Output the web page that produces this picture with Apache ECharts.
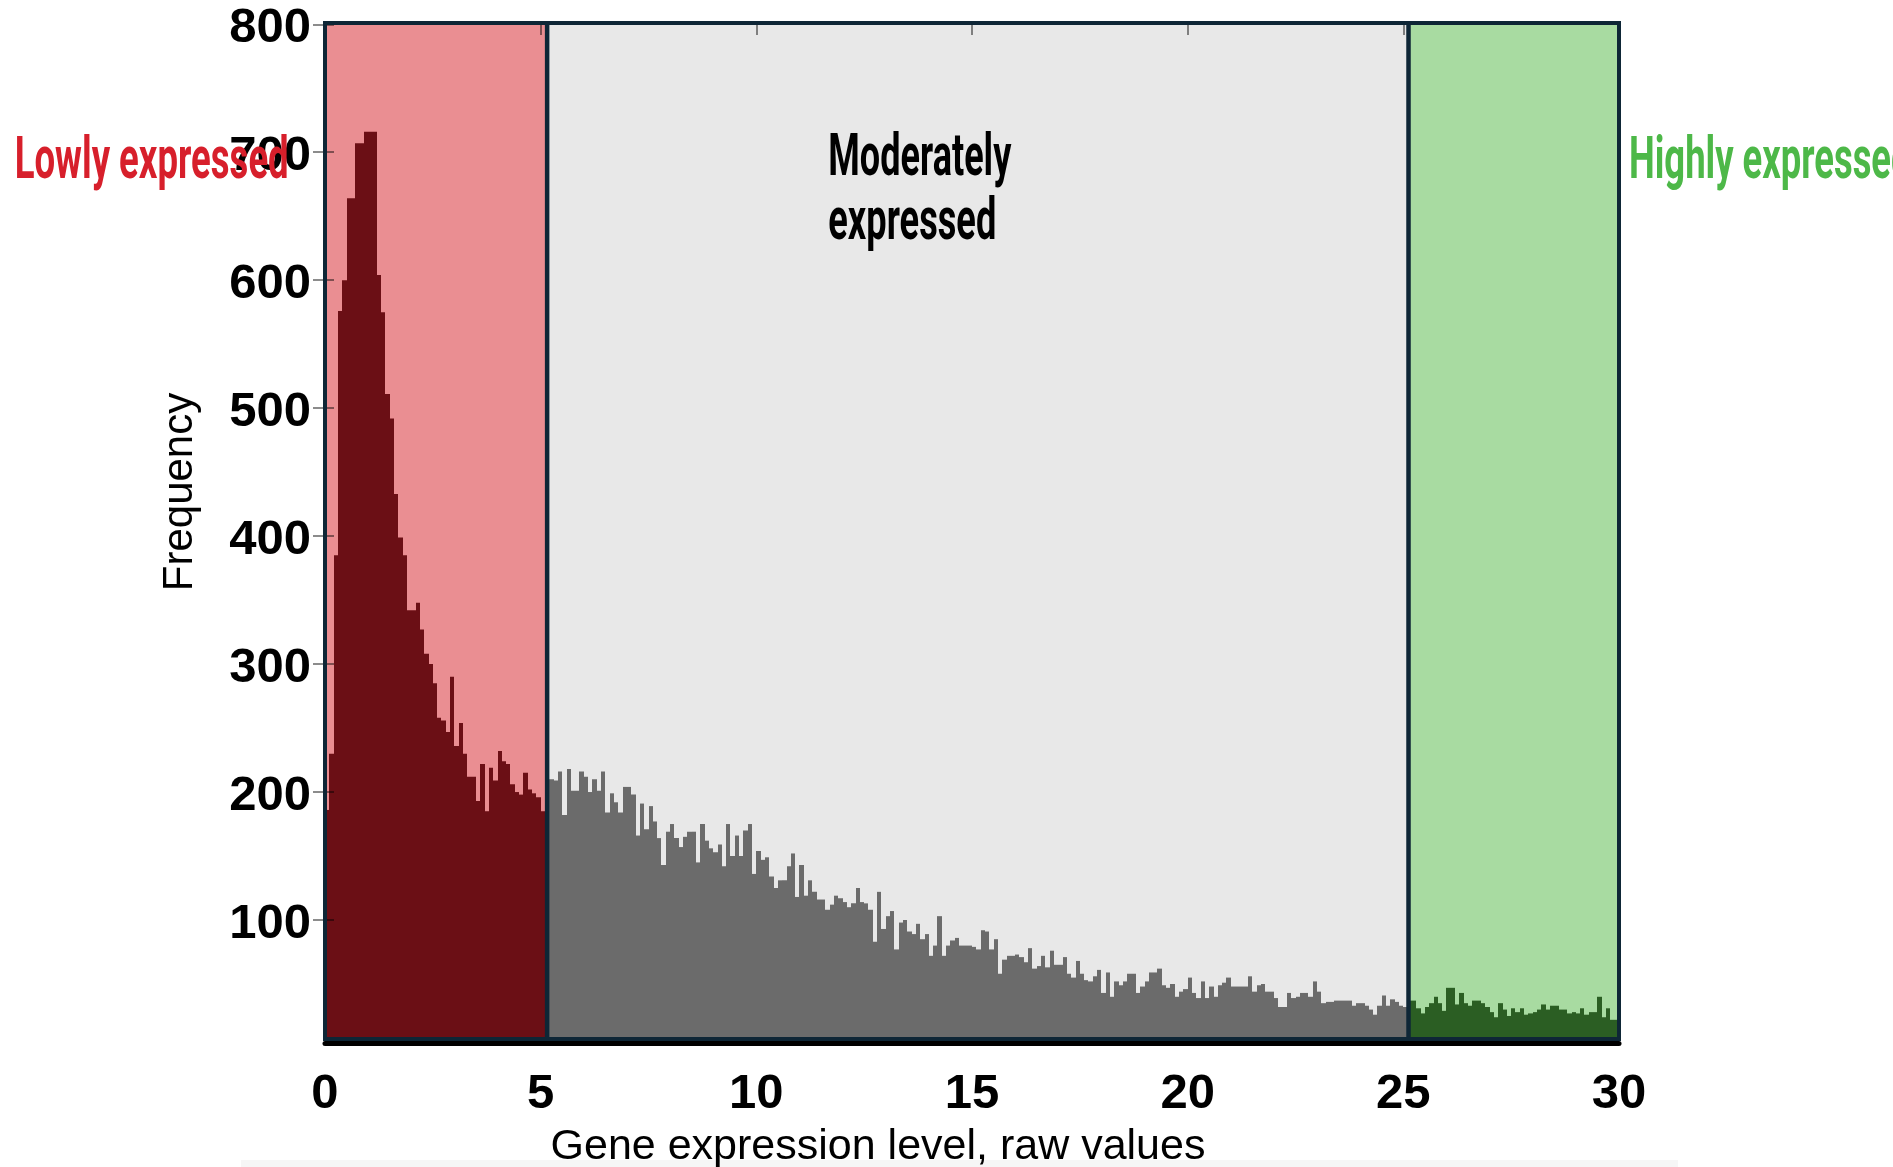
<!DOCTYPE html>
<html>
<head>
<meta charset="utf-8">
<style>
  html, body { margin: 0; padding: 0; background: #ffffff; }
  #chart { width: 1893px; height: 1167px; }
</style>
<script src="https://cdn.jsdelivr.net/npm/echarts@6/dist/echarts.min.js"></script>
</head>
<body>
<div id="chart"></div>
<script>
// ---------------- data ----------------
const binWidth = 0.1;

// lowly expressed bins, starting at 0
const lowStart = 0;
const lowCounts = [
  186, 230, 385, 576, 600, 664, 664, 707, 707, 716,
  716, 716, 604, 575, 511, 492, 433, 399, 385, 342,
  342, 348, 327, 308, 300, 285, 258, 256, 247, 290,
  236, 254, 230, 212, 212, 193, 222, 185, 219, 209,
  232, 224, 222, 206, 200, 198, 215, 202, 199, 196,
  185, 188
];

// moderately expressed bins, starting at 5.2
const midStart = 5.2;
const midCounts = [
  210, 209, 216, 182, 218, 201, 201, 216, 212, 200,
  210, 201, 216, 184, 199, 192, 184, 204, 204, 198,
  166, 191, 171, 189, 177, 164, 143, 169, 175, 164,
  157, 165, 169, 169, 145, 175, 162, 156, 153, 159,
  142, 175, 150, 166, 150, 170, 175, 136, 154, 147,
  149, 134, 125, 131, 131, 142, 152, 118, 143, 119,
  131, 122, 116, 116, 108, 112, 119, 117, 114, 110,
  113, 125, 114, 113, 108, 83, 122, 93, 103, 107,
  77, 98, 100, 91, 89, 97, 85, 89, 72, 80,
  103, 72, 80, 84, 86, 80, 80, 80, 79, 77,
  92, 91, 77, 85, 58, 69, 72, 72, 73, 71,
  67, 78, 62, 64, 72, 63, 76, 65, 65, 71,
  58, 55, 68, 58, 53, 52, 56, 61, 43, 59,
  40, 52, 49, 52, 58, 58, 43, 48, 52, 59,
  59, 62, 49, 47, 50, 40, 44, 46, 55, 43,
  39, 52, 39, 48, 40, 49, 51, 55, 48, 48,
  48, 48, 56, 44, 49, 50, 44, 44, 39, 32,
  32, 43, 39, 40, 43, 43, 40, 52, 44, 35,
  36, 36, 37, 37, 37, 37, 33, 35, 35, 33,
  30, 26, 33, 41, 33, 38, 36, 33, 32
];

// highly expressed bins, starting at 25.1
const highStart = 25.1;
const highCounts = [
  37, 37, 31, 27, 32, 35, 40, 35, 29, 47,
  47, 34, 43, 35, 33, 37, 37, 35, 32, 28,
  24, 35, 30, 25, 31, 28, 31, 26, 27, 28,
  30, 34, 30, 33, 33, 30, 30, 27, 28, 27,
  31, 26, 28, 28, 40, 24, 31, 22, 22
];

// region limits on the x axis
const regionEdges = [0, 5.15, 25.12, 30];
const regionNames = ['Lowly expressed', 'Moderately expressed', 'Highly expressed'];

// axes
const xMin = 0, xMax = 30, xStep = 5;
const yMin = 7, yMax = 801;
const yTickValues = [100, 200, 300, 400, 500, 600, 700, 800];
const xTitle = 'Gene expression level, raw values';
const yTitle = 'Frequency';

// ---------------- styles ----------------
const regionFill = ['#EA8E92', '#E8E8E8', '#A8DBA1'];
const barFill = ['#6B0F15', '#6B6B6B', '#2B5E23'];
const frameColor = '#0E2636';
const tickColor = 'rgba(0,0,0,0.45)';
const labelFont = "'Liberation Sans', Arial, Helvetica, sans-serif";
const annFont = "bold 60px Roboto, 'Liberation Sans', sans-serif";

// ---------------- build ----------------
function binsOf(start, counts, r) {
  return counts.map((c, i) => [Math.round((start + i * binWidth) * 1000) / 1000, c, r]);
}
const barData = []
  .concat(binsOf(lowStart, lowCounts, 0))
  .concat(binsOf(midStart, midCounts, 1))
  .concat(binsOf(highStart, highCounts, 2));

const regionData = [0, 1, 2].map(r => [regionEdges[r], regionEdges[r + 1], r]);
const dividerData = [[regionEdges[1]], [regionEdges[2]]];

const measureCtx = document.createElement('canvas').getContext('2d');
function fitScale(text, font, target) {
  measureCtx.font = font;
  return target / measureCtx.measureText(text).width;
}

const chart = echarts.init(document.getElementById('chart'), null, { renderer: 'canvas' });

const option = {
  animation: false,
  backgroundColor: '#ffffff',
  grid: {
    show: true,
    z: 20,
    left: 325, top: 23, width: 1294, height: 1016,
    backgroundColor: 'rgba(0,0,0,0)',
    borderColor: frameColor,
    borderWidth: 4
  },
  xAxis: [
    {
      type: 'value', min: xMin, max: xMax, interval: xStep, position: 'bottom', z: 10,
      offset: 4,
      axisLine: { show: true, onZero: false, lineStyle: { color: '#000000', width: 5 } },
      axisTick: { show: false },
      splitLine: { show: false },
      axisLabel: { fontSize: 49, fontWeight: 'bold', color: '#000000', fontFamily: labelFont, margin: 27 }
    },
    {
      type: 'value', min: xMin, max: xMax, interval: xStep, position: 'top', z: 10,
      axisLine: { show: false },
      axisTick: { show: true, inside: true, length: 12, lineStyle: { color: tickColor, width: 2 } },
      splitLine: { show: false },
      axisLabel: { show: false }
    }
  ],
  yAxis: [
    {
      type: 'value', min: yMin, max: yMax, position: 'left', z: 10,
      axisLine: { show: false },
      axisTick: { show: true, inside: true, length: 9, customValues: yTickValues, lineStyle: { color: tickColor, width: 2 } },
      splitLine: { show: false },
      axisLabel: { customValues: yTickValues, fontSize: 49, fontWeight: 'bold', color: '#000000',
                   fontFamily: labelFont, margin: 14, verticalAlign: 'top', lineHeight: 8 }
    },
    {
      type: 'value', min: yMin, max: yMax, position: 'right', z: 10,
      axisLine: { show: false },
      axisTick: { show: true, inside: true, length: 12, customValues: yTickValues, lineStyle: { color: tickColor, width: 2 } },
      splitLine: { show: false },
      axisLabel: { show: false }
    }
  ],
  series: [
    {
      name: 'regions',
      type: 'custom',
      z: 1,
      silent: true,
      data: regionData,
      encode: { x: [0, 1] },
      renderItem: function (params, api) {
        const a = api.coord([api.value(0), yMax]);
        const b = api.coord([api.value(1), yMin]);
        return {
          type: 'rect',
          shape: { x: a[0], y: a[1], width: b[0] - a[0], height: b[1] - a[1] },
          style: { fill: regionFill[api.value(2)] }
        };
      }
    },
    {
      name: 'counts',
      type: 'custom',
      z: 2,
      data: barData,
      encode: { x: 0, y: 1 },
      renderItem: function (params, api) {
        const x0 = api.value(0), v = api.value(1), r = api.value(2);
        const top = api.coord([x0, v]);
        const base = api.coord([x0 + binWidth, yMin]);
        const xa = Math.round(top[0]), xb = Math.round(base[0]);
        return {
          type: 'rect',
          shape: { x: xa, y: top[1], width: xb - xa, height: base[1] - top[1] },
          style: { fill: barFill[r] }
        };
      }
    },
    {
      name: 'dividers',
      type: 'custom',
      z: 5,
      silent: true,
      data: dividerData,
      encode: { x: 0 },
      renderItem: function (params, api) {
        const a = api.coord([api.value(0), yMax]);
        const b = api.coord([api.value(0), yMin]);
        return {
          type: 'line',
          shape: { x1: a[0], y1: a[1], x2: b[0], y2: b[1] },
          style: { stroke: frameColor, lineWidth: 4.5 }
        };
      }
    }
  ],
  graphic: [
    {
      type: 'rect', z: -1, silent: true,
      shape: { x: 241, y: 1160, width: 1437, height: 7 },
      style: { fill: '#f6f6f6' }
    },
    {
      type: 'text', z: 100, x: 180, y: 492, rotation: Math.PI / 2,
      style: { text: yTitle, font: "42px " + labelFont, fill: '#000000',
               align: 'center', verticalAlign: 'middle', textAlign: 'center', textVerticalAlign: 'middle' }
    },
    {
      type: 'text', z: 100, x: 878, y: 1147,
      style: { text: xTitle, font: "43px " + labelFont, fill: '#000000',
               align: 'center', verticalAlign: 'middle', textAlign: 'center', textVerticalAlign: 'middle' }
    },
    {
      type: 'text', z: 100, x: 14.7, y: 163, scaleX: fitScale('Lowly expressed', annFont, 274),
      style: { text: 'Lowly expressed', font: annFont, fill: '#D71F2B',
               align: 'left', verticalAlign: 'middle', textAlign: 'left', textVerticalAlign: 'middle' }
    },
    {
      type: 'text', z: 100, x: 828.3, y: 160, scaleX: fitScale('Moderately', annFont, 183),
      style: { text: 'Moderately', font: annFont, fill: '#000000',
               align: 'left', verticalAlign: 'middle', textAlign: 'left', textVerticalAlign: 'middle' }
    },
    {
      type: 'text', z: 100, x: 828.3, y: 224.3, scaleX: fitScale('expressed', annFont, 168),
      style: { text: 'expressed', font: annFont, fill: '#000000',
               align: 'left', verticalAlign: 'middle', textAlign: 'left', textVerticalAlign: 'middle' }
    },
    {
      type: 'text', z: 100, x: 1629, y: 163, scaleX: fitScale('Highly expresse', annFont, 262),
      style: { text: 'Highly expressed', font: annFont, fill: '#4DB848',
               align: 'left', verticalAlign: 'middle', textAlign: 'left', textVerticalAlign: 'middle' }
    }
  ]
};

chart.setOption(option);
</script>
</body>
</html>
